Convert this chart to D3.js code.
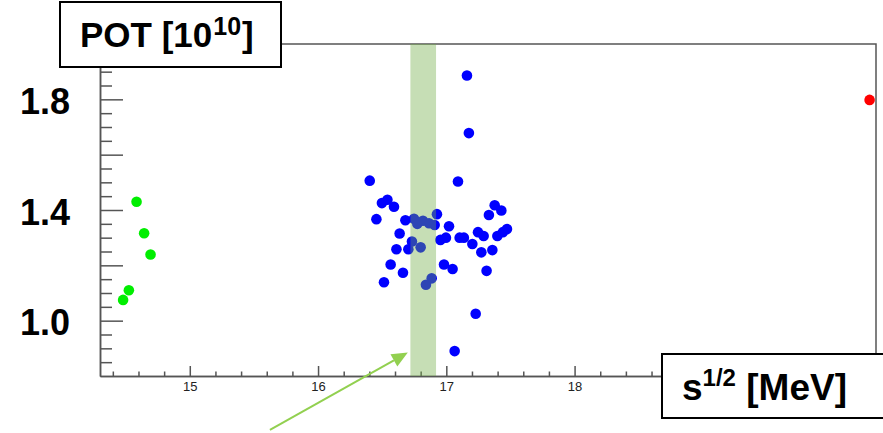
<!DOCTYPE html>
<html lang="en">
<head>
  <meta charset="UTF-8">
  <title>POT vs sqrt(s)</title>
  <script src="https://d3js.org/d3.v7.min.js"></script>
  <style>
    body { margin: 0; background: #fff; font-family: "Liberation Sans", Arial, sans-serif; }
    .axis path, .axis line { stroke: #555; stroke-width: 1.5px; }
    .frame { stroke: #555; stroke-width: 1.5px; fill: none; }
    .box { fill: #fff; stroke: #000; stroke-width: 2px; }
  </style>
</head>
<body>
  <svg width="883" height="433"></svg>
  <script>
    // data
    const greenX = [14.585, 14.644, 14.694, 14.525, 14.480];
    const greenY = [1.430, 1.316, 1.239, 1.110, 1.075];

    const blueX = [16.403, 17.091, 16.541, 16.498, 16.592, 17.377, 17.429, 17.332, 16.455, 16.927,
                   16.681, 16.748, 16.774, 16.818, 16.865, 16.909, 17.021, 16.636, 17.247, 17.291,
                   17.473, 17.441, 17.398, 16.997, 16.954, 17.104, 17.137, 16.732, 17.203, 16.611,
                   16.704, 16.800, 17.273, 17.359, 16.566, 16.982, 17.049, 16.662, 17.314, 16.514,
                   16.886, 16.841, 17.229, 17.065, 17.161, 17.176];
    const blueY = [1.506, 1.503, 1.437, 1.425, 1.412, 1.417, 1.398, 1.382, 1.367, 1.385,
                   1.363, 1.368, 1.350, 1.361, 1.352, 1.346, 1.341, 1.315, 1.320, 1.306,
                   1.331, 1.320, 1.306, 1.300, 1.292, 1.300, 1.300, 1.286, 1.277, 1.258,
                   1.258, 1.265, 1.247, 1.255, 1.203, 1.203, 1.187, 1.173, 1.180, 1.139,
                   1.153, 1.130, 1.025, 0.890, 1.886, 1.678];

    const redX = [20.30];
    const redY = [1.798];

    const band = [16.72, 16.92];
    const arrowFrom = [15.625, 0.605];
    const arrowTo = [16.70, 0.885];

    const xMajor = [15, 16, 17, 18];
    const yMajor = [1.0, 1.2, 1.4, 1.6, 1.8];
    const yLabels = ["1.0", "1.4", "1.8"];

    const svg = d3.select("svg");
    const mLeft = 100, mRight = 876, mTop = 44, mBottom = 376;

    const x = d3.scaleLinear().domain([14.3, 20.35]).range([mLeft, mRight]);
    const y = d3.scaleLinear().domain([0.8, 2.0]).range([mBottom, mTop]);

    // minor ticks (the part right of 18.6 sits under the label box anyway)
    const xMinor = d3.range(72, 94).map(i => i / 5).filter(v => !xMajor.includes(v) && v > 14.3);
    const yMinor = d3.range(17, 40).map(i => i / 20).filter(v => !yMajor.some(m => Math.abs(m - v) < 1e-6));

    // frame (top and right)
    svg.append("path").attr("class", "frame")
      .attr("d", `M${mLeft},${mTop}H${mRight}V${mBottom}`);

    // x axis
    svg.append("g").attr("class", "axis").attr("transform", `translate(0,${mBottom})`)
      .call(d3.axisBottom(x).tickValues(xMinor).tickSize(-4.5).tickSizeOuter(0).tickFormat(""));
    svg.append("g").attr("class", "axis").attr("transform", `translate(0,${mBottom})`)
      .call(d3.axisBottom(x).tickValues(xMajor).tickSize(-10).tickSizeOuter(0).tickPadding(6).tickFormat(d3.format("d")))
      .call(g => g.selectAll("text").attr("font-size", 13).attr("fill", "#222")
        .attr("font-family", "'Liberation Sans', Arial, sans-serif"));

    // y axis
    svg.append("g").attr("class", "axis").attr("transform", `translate(${mLeft},0)`)
      .call(d3.axisLeft(y).tickValues(yMinor).tickSize(-12).tickSizeOuter(0).tickFormat(""));
    svg.append("g").attr("class", "axis").attr("transform", `translate(${mLeft},0)`)
      .call(d3.axisLeft(y).tickValues(yMajor).tickSize(-23).tickSizeOuter(0).tickFormat(""));

    svg.append("g").selectAll("text").data(yLabels).join("text")
      .attr("x", 70).attr("y", d => y(+d)).attr("dy", "0.41em")
      .attr("text-anchor", "end").attr("font-size", 36).attr("font-weight", "bold")
      .text(d => d);

    // points
    const pts = svg.append("g");
    pts.selectAll(".g").data(greenX).join("circle").attr("class", "g")
      .attr("cx", d => x(d)).attr("cy", (d, i) => y(greenY[i])).attr("r", 5.3).attr("fill", "#00ee00");
    pts.selectAll(".b").data(blueX).join("circle").attr("class", "b")
      .attr("cx", d => x(d)).attr("cy", (d, i) => y(blueY[i])).attr("r", 5.3).attr("fill", "#0000ff");
    pts.selectAll(".r").data(redX).join("circle").attr("class", "r")
      .attr("cx", d => x(d)).attr("cy", (d, i) => y(redY[i])).attr("r", 5.3).attr("fill", "#ff0000");

    // green band over the points
    svg.append("rect")
      .attr("x", x(band[0])).attr("width", x(band[1]) - x(band[0]))
      .attr("y", mTop).attr("height", mBottom - mTop)
      .attr("fill", "#70ad47").attr("opacity", 0.4);

    // arrow
    const ax0 = x(arrowFrom[0]), ay0 = y(arrowFrom[1]);
    const ax1 = x(arrowTo[0]), ay1 = y(arrowTo[1]);
    const ang = Math.atan2(ay1 - ay0, ax1 - ax0);
    const hl = 16, hw = 7;
    const bx = ax1 - hl * Math.cos(ang), by = ay1 - hl * Math.sin(ang);
    svg.append("line").attr("x1", ax0).attr("y1", ay0).attr("x2", bx).attr("y2", by)
      .attr("stroke", "#92d050").attr("stroke-width", 2);
    svg.append("path")
      .attr("d", `M${ax1},${ay1}L${bx - hw * Math.sin(ang)},${by + hw * Math.cos(ang)}L${bx + hw * Math.sin(ang)},${by - hw * Math.cos(ang)}Z`)
      .attr("fill", "#92d050");

    // title box (y)
    svg.append("rect").attr("class", "box").attr("x", 60).attr("y", 2).attr("width", 221).attr("height", 65);
    const t1 = svg.append("text").attr("x", 80).attr("y", 47).attr("font-size", 35).attr("font-weight", "bold");
    t1.append("tspan").text("POT [10");
    t1.append("tspan").attr("font-size", 25).attr("dy", -12).attr("dx", 1).text("10");
    t1.append("tspan").attr("dy", 12).attr("dx", 1).text("]");

    // x label box
    svg.append("rect").attr("class", "box").attr("x", 662).attr("y", 354).attr("width", 240).attr("height", 64);
    const t2 = svg.append("text").attr("x", 682).attr("y", 400).attr("font-size", 37).attr("font-weight", "bold");
    t2.append("tspan").text("s");
    t2.append("tspan").attr("font-size", 24).attr("dy", -14).text("1/2");
    t2.append("tspan").attr("dy", 14).text(" [MeV]");
  </script>
</body>
</html>
